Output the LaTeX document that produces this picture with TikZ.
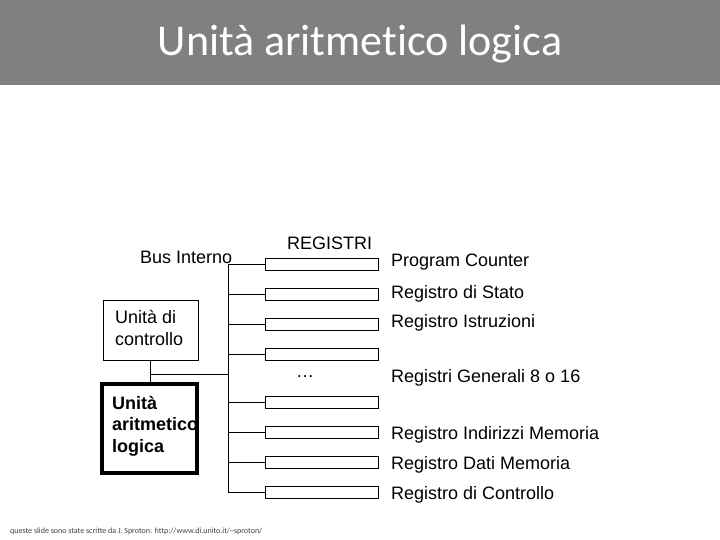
\documentclass[tikz,border=0pt]{standalone}
\usepackage{fontspec}
\setmainfont{Liberation Sans}
\newfontfamily\titlefont[Ligatures={NoCommon}]{Carlito}
\definecolor{titlegray}{HTML}{808080}
\definecolor{footgray}{HTML}{404040}
\begin{document}
\begin{tikzpicture}[x=1pt,y=-1pt,
  reg/.style={draw=black,line width=1pt,minimum width=113pt,minimum height=12pt,inner sep=0pt},
  lbl/.style={font=\fontsize{18}{21}\selectfont,anchor=west,inner sep=0pt},
  wire/.style={line width=1pt}]
\useasboundingbox (0,0) rectangle (720,540);
\fill[titlegray] (0,0) rectangle (720,85);
\node[text=white,font=\titlefont\fontsize{44}{48}\selectfont] (title) at (360,44) {Unità aritmetico logica};
% registers
\foreach \i/\y in {1/264,2/294,3/324,4/354,5/402,6/432,7/462,8/492}{
  \node[reg,anchor=west] (r\i) at (265,\y) {};
  \coordinate (b\i) at (228,\y);
  \draw[wire] (b\i) -- (r\i.west);
}
\draw[wire] (b1) -- (b8);
% labels
\node[lbl] (l1) at (391,262) {Program Counter};
\node[lbl] (l2) at (391,294) {Registro di Stato};
\node[lbl] (l3) at (391,323) {Registro Istruzioni};
\node[lbl] (l4) at (391,378) {Registri Generali 8 o 16};
\node[lbl] (l6) at (391,435) {Registro Indirizzi Memoria};
\node[lbl] (l7) at (391,465) {Registro Dati Memoria};
\node[lbl] (l8) at (391,495) {Registro di Controllo};
\node[lbl] (bus) at (140,257) {Bus Interno};
\node[lbl] (regs) at (287,243) {REGISTRI};
\node[lbl] (dots) at (296,377) {\ldots};
% control unit
\node[draw,line width=1pt,minimum width=95pt,minimum height=60pt,inner sep=0pt] (cu) at (150.5,330) {};
\node[font=\fontsize{18}{22}\selectfont,align=left,anchor=north west,inner sep=0pt] (cut) at (115,310) {Unità di\\controllo};
% ALU
\node[draw,line width=4pt,minimum width=95pt,minimum height=89pt,inner sep=0pt] (alu) at (149.5,428.5) {};
\node[font=\bfseries\fontsize{18}{21.5}\selectfont,align=left,anchor=north west,inner sep=0pt] (alut) at (112,396) {Unità\\aritmetico\\logica};
\coordinate (j) at (150,374);
\draw[wire] (cu.south -| j) -- (alu.north -| j);
\coordinate (bj) at (228,374);
\draw[wire] (j) -- (bj);
% footer
\node[font=\titlefont\fontsize{8}{9}\selectfont,text=footgray,anchor=west,inner sep=0pt] (foot) at (10,531) {queste slide sono state scritte da J. Sproton: http://www.di.unito.it/\textasciitilde sproton/};
\end{tikzpicture}
\end{document}
